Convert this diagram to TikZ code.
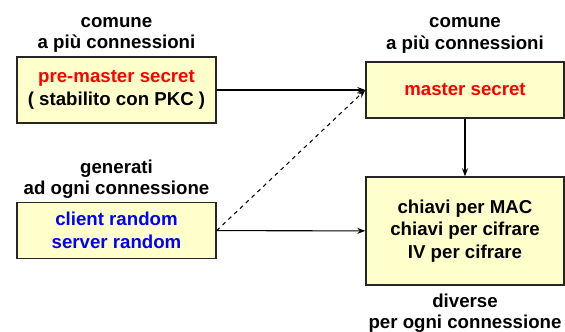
\documentclass[tikz,border=0pt]{standalone}
\usepackage{fontspec}
\setmainfont{Liberation Sans}
\usepackage{xcolor}
\usetikzlibrary{positioning, arrows.meta}

\definecolor{boxfill}{RGB}{255,255,204}

\tikzset{
  keybox/.style={draw=black!85, line width=1.1pt, fill=boxfill, align=center,
    font=\fontsize{14}{17}\selectfont\bfseries, inner sep=0pt},
  note/.style={align=center, inner sep=0pt,
    font=\fontsize{14}{16}\selectfont\bfseries},
  link/.style={line width=0.8pt, -{Stealth[length=6pt, width=4.5pt]}}
}

\begin{document}
\begin{tikzpicture}[x=0.75pt, y=-0.75pt]
        \useasboundingbox (0,0) rectangle (565,332);

        % Boxes
        \node[keybox, minimum width=149.25pt, minimum height=49.5pt] (pms) at (116.5,90)
          {\textcolor{red}{pre-master secret}\\( stabilito con PKC )};
        \node[keybox, minimum width=148.5pt, minimum height=42pt] (ms) at (465,90)
          {\textcolor{red}{master secret}};
        \node[keybox, minimum width=149.25pt, minimum height=42pt] (rnd) at (116.5,230.5)
          {\textcolor{blue}{client random}\\\textcolor{blue}{server random}};
        \node[keybox, minimum width=148.5pt, minimum height=81pt] (keys) at (465,231)
          {chiavi per MAC\\chiavi per cifrare\\IV per cifrare};

        % Labels
        \node[note, above=2.5pt of pms] (pmsnote) {comune\\a più connessioni};
        \node[note, above=6pt of ms] (msnote) {comune\\a più connessioni};
        \node[note, above=2pt of rnd] (rndnote) {generati\\ad ogni connessione};
        \node[note, below=6pt of keys] (keysnote) {diverse\\per ogni connessione};

        % Arrows
        \draw[link] (pms) -- (ms);
        \draw[link, dashed] (rnd.east) -- (ms.west);
        \draw[link] (rnd) -- (keys);
        \draw[link] (ms) -- (keys);

    \end{tikzpicture}
\end{document}
